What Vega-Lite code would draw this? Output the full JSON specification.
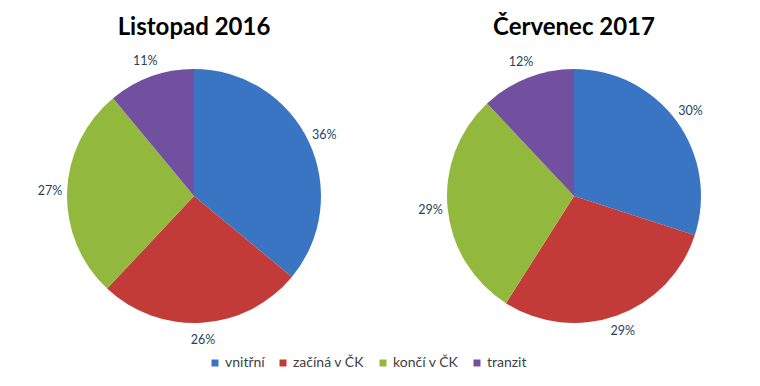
{
  "$schema": "https://vega.github.io/schema/vega-lite/v6.json",
  "background": "white",
  "padding": {"left": 4, "top": 16, "right": 0, "bottom": 0},
  "data": {"values": [
    {"obdobi": "Listopad 2016", "kategorie": "vnitřní", "poradi": 1, "podil": 0.36},
    {"obdobi": "Listopad 2016", "kategorie": "začíná v ČK", "poradi": 2, "podil": 0.26},
    {"obdobi": "Listopad 2016", "kategorie": "končí v ČK", "poradi": 3, "podil": 0.27},
    {"obdobi": "Listopad 2016", "kategorie": "tranzit", "poradi": 4, "podil": 0.11},
    {"obdobi": "Červenec 2017", "kategorie": "vnitřní", "poradi": 1, "podil": 0.30},
    {"obdobi": "Červenec 2017", "kategorie": "začíná v ČK", "poradi": 2, "podil": 0.29},
    {"obdobi": "Červenec 2017", "kategorie": "končí v ČK", "poradi": 3, "podil": 0.29},
    {"obdobi": "Červenec 2017", "kategorie": "tranzit", "poradi": 4, "podil": 0.12}
  ]},
  "spacing": 0,
  "hconcat": [
    {
      "title": "Listopad 2016",
      "width": 380,
      "height": 300,
      "transform": [{"filter": "datum.obdobi === 'Listopad 2016'"}],
      "encoding": {
        "theta": {"field": "podil", "type": "quantitative", "stack": true},
        "order": {"field": "poradi", "type": "quantitative"}
      },
      "layer": [
        {
          "mark": {"type": "arc", "outerRadius": 127},
          "encoding": {
            "color": {"field": "kategorie", "type": "nominal",
              "scale": {"domain": ["vnitřní", "začíná v ČK", "končí v ČK", "tranzit"], "range": ["#3A75C4", "#C23B38", "#92B83D", "#7250A0"]},
              "legend": {"orient": "none", "direction": "horizontal", "legendX": 204, "legendY": 310, "title": null, "symbolType": "square", "symbolSize": 49, "symbolStrokeWidth": 0, "labelFont": "Lato", "labelFontSize": 14, "labelColor": "#404040", "columnPadding": 11, "labelOffset": 3}
            }
          }
        },
        {
          "mark": {"type": "text", "radius": 144, "font": "Lato", "fontSize": 12.5, "color": "#243F60"},
          "encoding": {"text": {"field": "podil", "type": "quantitative", "format": ".0%"}}
        }
      ]
    },
    {
      "title": "Červenec 2017",
      "width": 380,
      "height": 300,
      "transform": [{"filter": "datum.obdobi === 'Červenec 2017'"}],
      "encoding": {
        "theta": {"field": "podil", "type": "quantitative", "stack": true},
        "order": {"field": "poradi", "type": "quantitative"}
      },
      "layer": [
        {
          "mark": {"type": "arc", "outerRadius": 127},
          "encoding": {
            "color": {"field": "kategorie", "type": "nominal",
              "scale": {"domain": ["vnitřní", "začíná v ČK", "končí v ČK", "tranzit"], "range": ["#3A75C4", "#C23B38", "#92B83D", "#7250A0"]},
              "legend": {"orient": "none", "direction": "horizontal", "legendX": 204, "legendY": 310, "title": null, "symbolType": "square", "symbolSize": 49, "symbolStrokeWidth": 0, "labelFont": "Lato", "labelFontSize": 14, "labelColor": "#404040", "columnPadding": 11, "labelOffset": 3}
            }
          }
        },
        {
          "mark": {"type": "text", "radius": 144, "font": "Lato", "fontSize": 12.5, "color": "#243F60"},
          "encoding": {"text": {"field": "podil", "type": "quantitative", "format": ".0%"}}
        }
      ]
    }
  ],
  "resolve": {"scale": {"color": "shared"}, "legend": {"color": "shared"}},
  "config": {
    "view": {"stroke": null},
    "title": {"font": "Lato", "fontSize": 24, "fontWeight": "bold", "color": "#000000", "anchor": "middle", "offset": 6}
  }
}
